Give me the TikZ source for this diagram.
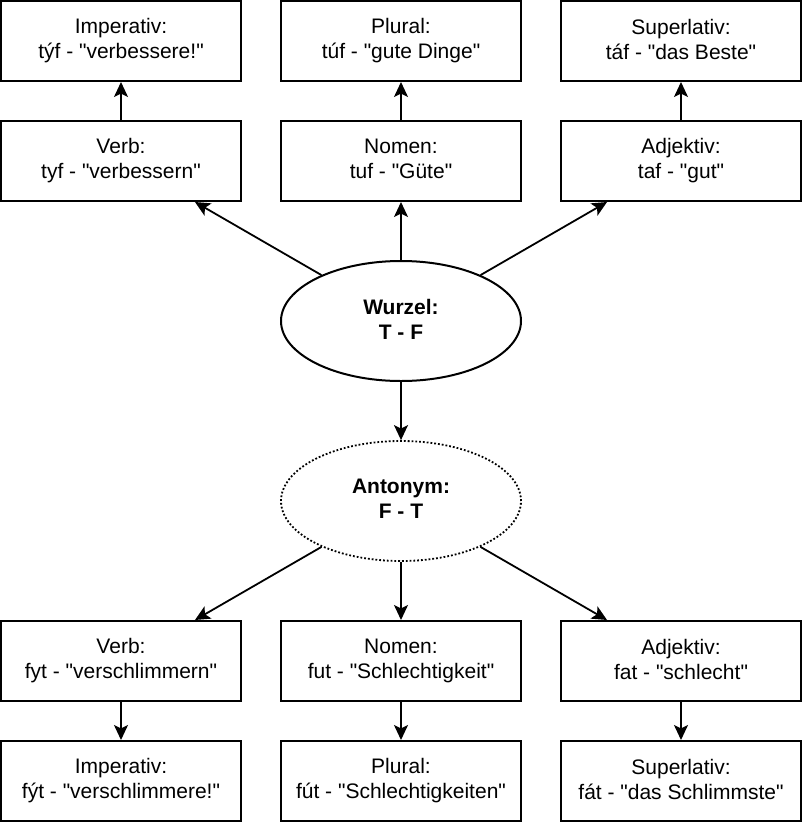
\documentclass[tikz,border=0pt]{standalone}
\usepackage{fontspec}
\setmainfont{Liberation Sans}
\usetikzlibrary{shapes.geometric,arrows.meta}

\newcommand{\q}{\textquotedbl{}}

\begin{document}
\begin{tikzpicture}[x=1pt, y=-1pt,
        wordbox/.style={shape=rectangle, draw=black, line width=2pt, minimum width=240pt, minimum height=80pt, inner sep=0pt, align=center, font=\fontsize{21}{25}\selectfont,
            execute at begin node=\rule{0pt}{21pt}, execute at end node=\rule[-4pt]{0pt}{4pt}},
        rootnode/.style={wordbox, shape=ellipse, minimum height=120pt, font=\fontsize{21}{25}\selectfont\bfseries},
        link/.style={line width=1.8pt, -{Stealth[length=15pt, width=14pt, inset=3.5pt]}}]
        \useasboundingbox (0, 0) rectangle (804, 822);
        % Wurzel T - F
        \node[wordbox] (I1) at (121, 41) {Imperativ:\\týf - \q verbessere!\q};
        \node[wordbox] (P1) at (401, 41) {Plural:\\túf - \q gute Dinge\q};
        \node[wordbox] (S1) at (681, 41) {Superlativ:\\táf - \q das Beste\q};
        \node[wordbox] (V1) at (121, 161) {Verb:\\tyf - \q verbessern\q};
        \node[wordbox] (N1) at (401, 161) {Nomen:\\tuf - \q Güte\q};
        \node[wordbox] (A1) at (681, 161) {Adjektiv:\\taf - \q gut\q};
        \node[rootnode] (W) at (401, 321) {Wurzel:\\T - F};
        % Antonym F - T
        \node[rootnode, line width=1.8pt, dash pattern=on 1.8pt off 2pt] (G) at (401, 501) {Antonym:\\F - T};
        \node[wordbox] (V2) at (121, 661) {Verb:\\fyt - \q verschlimmern\q};
        \node[wordbox] (N2) at (401, 661) {Nomen:\\fut - \q Schlechtigkeit\q};
        \node[wordbox] (A2) at (681, 661) {Adjektiv:\\fat - \q schlecht\q};
        \node[wordbox] (I2) at (121, 781) {Imperativ:\\fýt - \q verschlimmere!\q};
        \node[wordbox] (P2) at (401, 781) {Plural:\\fút - \q Schlechtigkeiten\q};
        \node[wordbox] (S2) at (681, 781) {Superlativ:\\fát - \q das Schlimmste\q};
        \draw[link] (V1) to (I1);
        \draw[link] (N1) to (P1);
        \draw[link] (A1) to (S1);
        \draw[link] (W.150) to (V1.-29);
        \draw[link] (W) to (N1);
        \draw[link] (W.30) to (A1.-151);
        \draw[link] (W) to (G);
        \draw[link] (G.210) to (V2.29);
        \draw[link] (G) to (N2);
        \draw[link] (G.-30) to (A2.151);
        \draw[link] (V2) to (I2);
        \draw[link] (N2) to (P2);
        \draw[link] (A2) to (S2);
    \end{tikzpicture}
\end{document}
